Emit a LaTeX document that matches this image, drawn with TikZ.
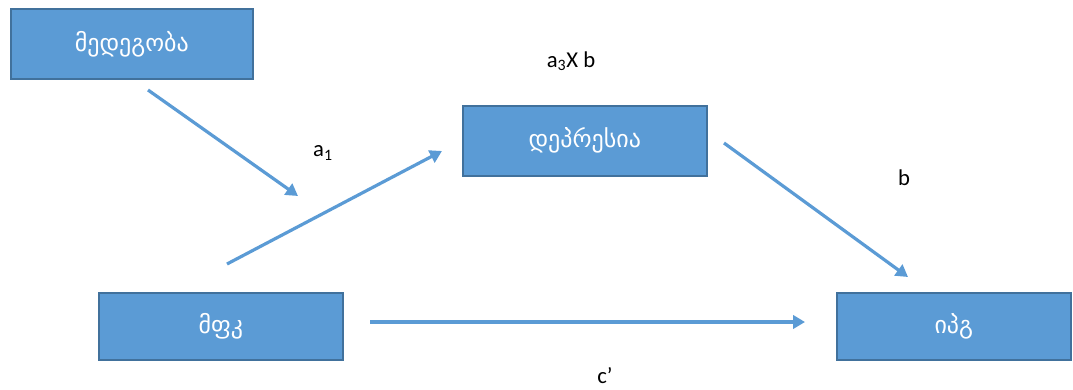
\documentclass[tikz,border=0pt]{standalone}
\usepackage{fontspec}
\setmainfont{Carlito}
\newfontfamily\geo{DejaVu Sans}
\usetikzlibrary{arrows.meta}
\definecolor{boxfill}{HTML}{5B9BD5}
\definecolor{boxline}{HTML}{41719C}
\tikzset{
  box/.style={draw=boxline, line width=1.2pt, fill=boxfill, text=white, font=\geo\fontsize{18}{21}\selectfont, anchor=north west, inner sep=0pt},
  conn/.style={draw=boxfill, line width=2.4pt, -{Triangle[length=9pt,width=10pt]}},
  lbl/.style={font=\fontsize{17}{20}\selectfont, text=black}
}
\begin{document}
\begin{tikzpicture}[x=0.75pt,y=-0.75pt]
\useasboundingbox (0,0) rectangle (1073,389);
\node[box, minimum width=242*0.75pt, minimum height=70*0.75pt] (res) at (10,8) {მედეგობა};
\node[box, minimum width=244*0.75pt, minimum height=70*0.75pt] (dep) at (462,105) {დეპრესია};
\node[box, minimum width=244*0.75pt, minimum height=67*0.75pt] (mfk) at (98,292) {მფკ};
\node[box, minimum width=234*0.75pt, minimum height=67*0.75pt] (ipg) at (836,292) {იპგ};
\coordinate (s1) at (148,90); \coordinate (e1) at (298,196);
\coordinate (s2) at (227,264); \coordinate (e2) at (442,151);
\coordinate (s3) at (724,143); \coordinate (e3) at (908,277);
\coordinate (s4) at (370,322); \coordinate (e4) at (805,322);
\draw[conn] (s1) -- (e1);
\draw[conn] (s2) -- (e2);
\draw[conn] (s3) -- (e3);
\draw[conn] (s4) -- (e4);
\node[lbl] (la1) at (323,153) {a\textsubscript{1}};
\node[lbl] (la3) at (571,61) {a\textsubscript{3}X b};
\node[lbl] (lb) at (904,178) {b};
\node[lbl] (lc) at (605,376) {c’};
\end{tikzpicture}
\end{document}
